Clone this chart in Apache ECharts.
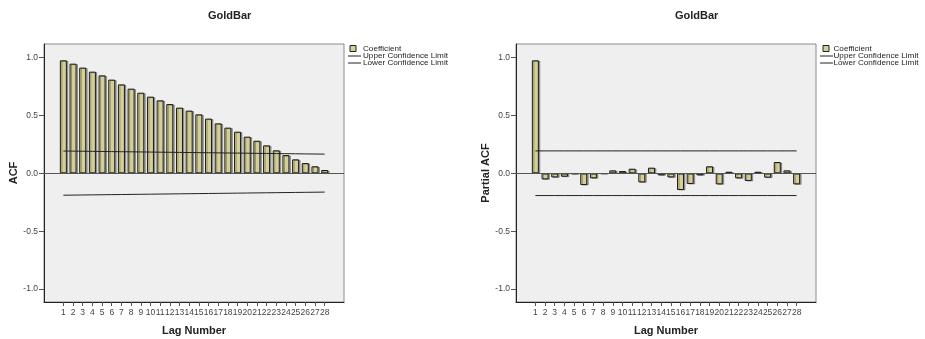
<!DOCTYPE html>
<html>
<head>
<meta charset="utf-8">
<script src="https://cdn.jsdelivr.net/npm/echarts@6/dist/echarts.min.js"></script>
<style>
html,body{margin:0;padding:0;background:#fff;}
#main{width:925px;height:339px;}
</style>
</head>
<body>
<div id="main"></div>
<script>
//lag numbers on the x axis
var lags=[1,2,3,4,5,6,7,8,9,10,11,12,13,14,15,16,17,18,19,20,21,22,23,24,25,26,27,28];
//ACF (left)
var acf=[0.977,0.948,0.914,0.879,0.847,0.810,0.769,0.732,0.697,0.663,0.631,0.599,0.568,0.542,
    0.510,0.473,0.432,0.395,0.360,0.317,0.282,0.242,0.199,0.158,0.121,0.089,0.061,0.029];
var acfUpper=[0.193,0.192,0.191,0.190,0.189,0.188,0.187,0.186,0.185,0.184,0.183,0.182,0.181,0.180,
    0.179,0.178,0.177,0.176,0.175,0.174,0.173,0.172,0.171,0.170,0.169,0.168,0.167,0.166];
var acfLower=[-0.189,-0.188,-0.187,-0.186,-0.185,-0.184,-0.183,-0.182,-0.181,-0.180,-0.179,-0.178,-0.177,-0.176,
    -0.175,-0.174,-0.173,-0.172,-0.171,-0.170,-0.169,-0.168,-0.167,-0.166,-0.165,-0.164,-0.163,-0.162];
//Partial ACF (right)
var pacf=[0.977,-0.052,-0.035,-0.029,-0.005,-0.101,-0.043,-0.003,0.026,0.020,0.040,-0.078,0.049,-0.017,
    -0.035,-0.144,-0.092,-0.017,0.061,-0.095,0.014,-0.043,-0.066,0.014,-0.037,0.098,0.026,-0.095];
var pacfUpper=[0.194,0.194,0.194,0.194,0.194,0.194,0.194,0.194,0.194,0.194,0.194,0.194,0.194,0.194,
    0.194,0.194,0.194,0.194,0.194,0.194,0.194,0.194,0.194,0.194,0.194,0.194,0.194,0.194];
var pacfLower=[-0.192,-0.192,-0.192,-0.192,-0.192,-0.192,-0.192,-0.192,-0.192,-0.192,-0.192,-0.192,-0.192,-0.192,
    -0.192,-0.192,-0.192,-0.192,-0.192,-0.192,-0.192,-0.192,-0.192,-0.192,-0.192,-0.192,-0.192,-0.192];
//y ticks
var yTicks=[-1,-0.5,0,0.5,1];
var chartTitle='GoldBar';
var legendNames=['Coefficient','Upper Confidence Limit','Lower Confidence Limit'];

var font='"Liberation Sans", Arial, sans-serif';
var myChart=echarts.init(document.getElementById('main'));

function pairs(v){
    return lags.map(function (l,i) {return [l,v[i]];});
}

//one panel: grid + axes + series
function panel(i,left,yName,nameGap,vals,up,low){
    var grid={left:left,top:44,width:300,height:258,show:true,backgroundColor:'#efefef',
        borderColor:'#8a8a8a',borderWidth:1,outerBoundsMode:'none'};
    var xAxis={type:'value',gridIndex:i,min:-1,max:30,
        axisLine:{show:true,onZero:false,lineStyle:{color:'#222',width:1}},
        axisTick:{show:true,customValues:lags,length:4,lineStyle:{color:'#555'}},
        axisLabel:{customValues:lags,fontSize:8.5,color:'#444',margin:6,fontFamily:font},
        splitLine:{show:false},
        name:'Lag Number',nameLocation:'middle',nameGap:23,
        nameTextStyle:{fontWeight:'bold',fontSize:11,color:'#222',fontFamily:font}};
    var yAxis={type:'value',gridIndex:i,min:-1.112,max:1.118,
        axisLine:{show:true,onZero:false,lineStyle:{color:'#222',width:1}},
        axisTick:{show:true,customValues:yTicks,length:5,lineStyle:{color:'#555'}},
        axisLabel:{customValues:yTicks,fontSize:8.5,color:'#444',margin:6,fontFamily:font,
            formatter:function (v) {return v.toFixed(1);}},
        splitLine:{show:false},
        name:yName,nameLocation:'middle',nameGap:nameGap,
        nameTextStyle:{fontWeight:'bold',fontSize:11,color:'#222',fontFamily:font}};
    var series=[
        {
            name:legendNames[0],type:'bar',xAxisIndex:i,yAxisIndex:i,
            data:pairs(vals),barWidth:7,
            itemStyle:{color:'#d4cf95',borderColor:'#1a1a1a',borderWidth:1,
                shadowColor:'rgba(0,0,0,0.3)',shadowOffsetX:1.5,shadowOffsetY:0.5,shadowBlur:0},
            markLine:{silent:true,symbol:'none',label:{show:false},
                lineStyle:{color:'#555',width:1,type:'solid'},data:[{yAxis:0}]}
        },
        {
            name:legendNames[1],type:'line',xAxisIndex:i,yAxisIndex:i,data:pairs(up),
            symbol:'none',lineStyle:{color:'#222',width:1}
        },
        {
            name:legendNames[2],type:'line',xAxisIndex:i,yAxisIndex:i,data:pairs(low),
            symbol:'none',lineStyle:{color:'#222',width:1}
        }
    ];
    return {grid:grid,xAxis:xAxis,yAxis:yAxis,series:series};
}

//legend drawn by hand like spss
function legendGraphic(lineX,boxX,textX){
    var rows=[48.5,56,63];
    var g=[];
    g.push({type:'rect',shape:{x:boxX,y:rows[0]-3,width:6,height:6},
        style:{fill:'#d4cf95',stroke:'#222',lineWidth:1}});
    for(let k=1;k<3;k++){
        g.push({type:'line',shape:{x1:lineX,y1:rows[k],x2:lineX+13,y2:rows[k]},
            style:{stroke:'#222',lineWidth:1}});
    }
    for(let k=0;k<3;k++){
        g.push({type:'text',x:textX,y:rows[k],scaleX:1.1,
            style:{text:legendNames[k],font:'7.4px '+font,fill:'#222',verticalAlign:'middle'}});
    }
    return g;
}

var p1=panel(0,44,'ACF',25,acf,acfUpper,acfLower);
var p2=panel(1,516,'Partial ACF',24,pacf,pacfUpper,pacfLower);

option={
    animation:false,
    title:[
        {text:chartTitle,left:203,top:5,textStyle:{fontSize:11,fontWeight:'bold',color:'#222',fontFamily:font}},
        {text:chartTitle,left:670,top:5,textStyle:{fontSize:11,fontWeight:'bold',color:'#222',fontFamily:font}}
    ],
    grid:[p1.grid,p2.grid],
    xAxis:[p1.xAxis,p2.xAxis],
    yAxis:[p1.yAxis,p2.yAxis],
    series:p1.series.concat(p2.series),
    graphic:legendGraphic(348,350,363).concat(legendGraphic(820,823,833.5))
};
myChart.setOption(option);
</script>
</body>
</html>
